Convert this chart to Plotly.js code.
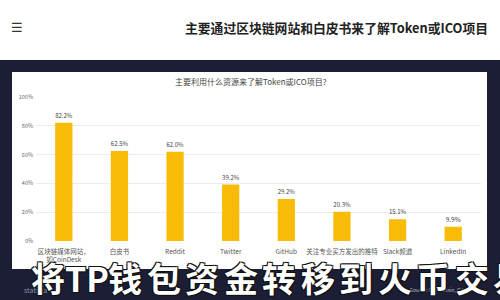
<!DOCTYPE html>
<html><head><meta charset="utf-8">
<script src="https://cdn.plot.ly/plotly-3.0.1.min.js"></script>
<style>html,body{margin:0;padding:0;background:#fff}#chart{width:500px;height:300px}</style>
</head><body><div id="chart"></div>
<script>
const categories = ["区块链媒体网站，<br>如CoinDesk", "白皮书", "Reddit", "Twitter", "GitHub", "关注专业买方发出的推特", "Slack频道", "LinkedIn"];
const values = [82.2, 62.5, 62.0, 39.2, 29.2, 20.3, 15.1, 9.9];
const yTicks = [0, 20, 40, 60, 80, 100];
const yTickLabels = ["0%", "20%", "40%", "60%", "80%", "100%"];
const pageTitle = "主要通过区块链网站和白皮书来了解Token或ICO项目";
const chartTitle = "主要利用什么资源来了解Token或ICO项目?";
const bannerChars = ["将", "TP", "钱", "包", "资", "金", "转", "移", "到", "火", "币", "交", "易"];
const sourceText = "Source: Blockchain, Q4 2017";

// pixel -> paper helpers (plot area: x 36..481, y 97..241)
const L = 36, R = 481, T = 97, B = 241;
const px = x => (x - L) / (R - L);
const py = y => (B - y) / (B - T);

const font = "Noto Sans CJK SC, Noto Sans, sans-serif";

const trace = {
  type: "bar",
  x: categories,
  y: values,
  marker: {color: "#f8bb08"},
  text: values.map(v => v.toFixed(1) + "%"),
  textposition: "outside",
  cliponaxis: false,
  textfont: {size: 6.5, color: "#444", family: font},
  hoverinfo: "none"
};

const bannerAnnotations = bannerChars.map((ch, i) => ({
  xref: "paper", yref: "paper", x: px(48 + i * 38.5), y: py(277),
  xanchor: "center", yanchor: "middle", text: ch, showarrow: false,
  font: {size: 34, color: "#ffffff", family: font, weight: 700,
         shadow: "1px 1px 0 #111, -1px -1px 0 #111, 1px -1px 0 #111, -1px 1px 0 #111"}
}));

const layout = {
  width: 500, height: 300,
  margin: {l: L, r: 500 - R, t: T, b: 300 - B, pad: 0},
  paper_bgcolor: "#ffffff",
  plot_bgcolor: "rgba(0,0,0,0)",
  bargap: 0.69,
  showlegend: false,
  xaxis: {
    type: "category",
    tickfont: {size: 6.5, color: "#555", family: font},
    showgrid: false, zeroline: false, showline: false, ticks: "",
    automargin: false, tickangle: 0, ticklabelstandoff: 5
  },
  yaxis: {
    range: [0, 100],
    tickvals: yTicks,
    ticktext: yTickLabels,
    tickfont: {size: 5.5, color: "#666", family: font},
    gridcolor: "#ececec", gridwidth: 1,
    zeroline: false, showline: false, ticks: "",
    automargin: false, fixedrange: true, ticklabelstandoff: 2
  },
  shapes: [
    {type: "rect", xref: "paper", yref: "paper", layer: "below",
     x0: px(-10), x1: px(510), y0: py(310), y1: py(60),
     fillcolor: "#1b1e35", line: {width: 0}},
    {type: "rect", xref: "paper", yref: "paper", layer: "below",
     x0: px(12), x1: px(487), y0: py(269), y1: py(72),
     fillcolor: "#ffffff", line: {width: 0}}
  ],
  annotations: [
    {xref: "paper", yref: "paper", x: px(490), y: py(28), xanchor: "right", yanchor: "middle",
     text: "<b>" + pageTitle + "</b>", showarrow: false,
     font: {size: 12.8, color: "#222", family: font}},
    {xref: "paper", yref: "paper", x: px(9), y: py(28), xanchor: "left", yanchor: "middle",
     text: "☰", showarrow: false, font: {size: 13, color: "#333", family: "DejaVu Sans"}},
    {xref: "paper", yref: "paper", x: px(251), y: py(82), xanchor: "center", yanchor: "middle",
     text: chartTitle, showarrow: false, font: {size: 8, color: "#444", family: font}},
    {xref: "paper", yref: "paper", x: px(22), y: py(290), xanchor: "left", yanchor: "middle",
     text: "statista", showarrow: false, font: {size: 7, color: "#8a8fa8", family: font}},
    {xref: "paper", yref: "paper", x: px(478), y: py(289), xanchor: "right", yanchor: "middle",
     text: sourceText, showarrow: false, font: {size: 5, color: "#b8bccc", family: font}}
  ].concat(bannerAnnotations)
};

Plotly.newPlot("chart", [trace], layout, {staticPlot: true, displayModeBar: false});
</script>
</body></html>
